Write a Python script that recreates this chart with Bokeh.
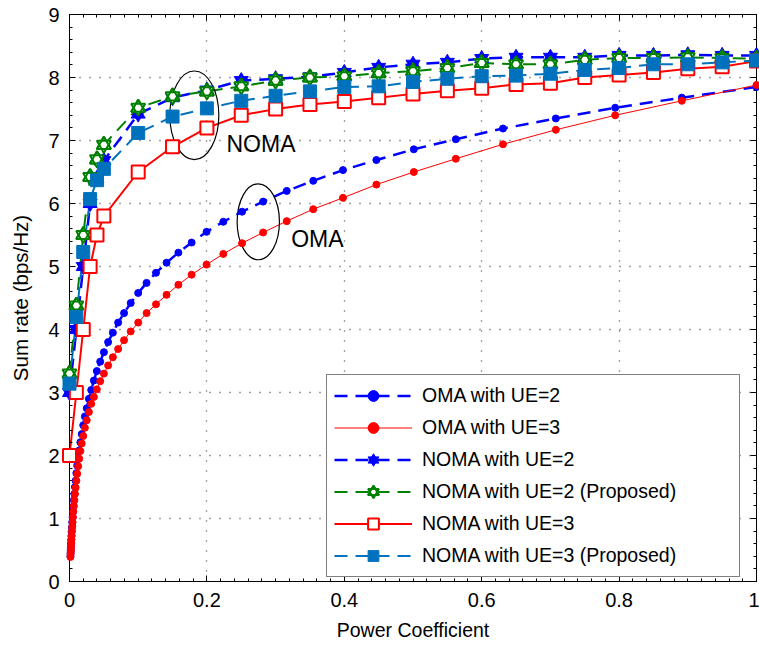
from bokeh.plotting import figure
from bokeh.models import (LinearAxis, Range1d, Legend, LegendItem, FixedTicker,
                          Label, CustomJSTickFormatter)
from bokeh.embed import file_html
from bokeh.resources import INLINE

FONT = "Liberation Sans, Arial, sans-serif"

# ---- OMA curves (power coefficient sampled on a log grid) ----
oma_x = [1.0, 0.8913, 0.7943, 0.7079, 0.6310, 0.5623, 0.5012, 0.4467, 0.3981, 0.3548,
         0.3162, 0.2818, 0.2512, 0.2239, 0.1995, 0.1778, 0.1585, 0.1413, 0.1259, 0.1122,
         0.1000, 0.0891, 0.0794, 0.0708, 0.0631, 0.0562, 0.0501, 0.0447, 0.0398, 0.0355,
         0.0316, 0.0282, 0.0251, 0.0224, 0.0200, 0.0178, 0.0158, 0.0141, 0.0126, 0.0112,
         0.0100, 0.00891, 0.00794, 0.00708, 0.00631, 0.00562, 0.00501, 0.00447, 0.00398,
         0.00355, 0.00316, 0.00282, 0.00251, 0.00224, 0.00200, 0.00178, 0.00158, 0.00141]
oma_ue2 = [7.85, 7.68, 7.52, 7.35, 7.19, 7.02, 6.86, 6.69, 6.53, 6.36,
           6.20, 6.03, 5.87, 5.71, 5.55, 5.38, 5.22, 5.06, 4.90, 4.74,
           4.58, 4.42, 4.26, 4.11, 3.95, 3.80, 3.64, 3.49, 3.34, 3.19,
           3.04, 2.90, 2.75, 2.62, 2.48, 2.34, 2.21, 2.08, 1.96, 1.84,
           1.72, 1.60, 1.50, 1.39, 1.29, 1.19, 1.10, 1.02, 0.94,
           0.86, 0.79, 0.72, 0.66, 0.60, 0.54, 0.49, 0.45, 0.40]
oma_ue3 = [7.88, 7.63, 7.40, 7.17, 6.94, 6.71, 6.50, 6.30, 6.09, 5.91,
           5.72, 5.54, 5.37, 5.20, 5.03, 4.87, 4.71, 4.55, 4.40, 4.26,
           4.11, 3.97, 3.83, 3.69, 3.56, 3.43, 3.30, 3.18, 3.05, 2.93,
           2.82, 2.69, 2.56, 2.44, 2.31, 2.19, 2.07, 1.95, 1.83, 1.71,
           1.60, 1.49, 1.39, 1.29, 1.20, 1.11, 1.02, 0.94, 0.87,
           0.80, 0.73, 0.67, 0.61, 0.56, 0.51, 0.47, 0.43, 0.39]

# ---- NOMA curves ----
noma_x = [0, 0.01, 0.02, 0.03, 0.04, 0.05, 0.10, 0.15, 0.20, 0.25, 0.30, 0.35, 0.40,
          0.45, 0.50, 0.55, 0.60, 0.65, 0.70, 0.75, 0.80, 0.85, 0.90, 0.95, 1.00]
noma_ue2 = [3.00, 4.00, 5.00, 6.00, 6.40, 6.68, 7.42, 7.68, 7.80, 7.95, 7.98, 8.01, 8.08,
            8.16, 8.21, 8.24, 8.30, 8.32, 8.32, 8.32, 8.35, 8.35, 8.36, 8.35, 8.35]
noma_ue2_prop = [3.30, 4.38, 5.50, 6.42, 6.70, 6.93, 7.52, 7.70, 7.78, 7.86, 7.95, 8.00, 8.02,
                 8.07, 8.10, 8.15, 8.23, 8.21, 8.21, 8.28, 8.31, 8.31, 8.32, 8.31, 8.30]
noma_ue3 = [2.00, 3.00, 4.00, 5.00, 5.50, 5.80, 6.50, 6.90, 7.20, 7.40, 7.50, 7.57, 7.62,
            7.68, 7.74, 7.79, 7.83, 7.89, 7.91, 8.00, 8.04, 8.08, 8.14, 8.17, 8.26]
noma_ue3_prop = [3.14, 4.20, 5.23, 6.07, 6.37, 6.55, 7.12, 7.38, 7.51, 7.63, 7.71, 7.78, 7.85,
                 7.86, 7.93, 7.98, 8.02, 8.03, 8.06, 8.12, 8.15, 8.21, 8.21, 8.24, 8.27]

x_ticks = [0, 0.2, 0.4, 0.6, 0.8, 1.0]
y_ticks = [0, 1, 2, 3, 4, 5, 6, 7, 8, 9]

BLUE = "#0000FF"
RED = "#FF0000"
GREEN = "#008000"
MBLUE = "#0072BD"

p = figure(width=759, height=647, output_backend="svg", toolbar_location=None,
           x_range=Range1d(0, 1), y_range=Range1d(0, 9),
           min_border_left=69, min_border_right=3, min_border_top=14, min_border_bottom=66)
p.background_fill_color = "white"
p.border_fill_color = "white"
p.outline_line_color = "black"
p.outline_line_width = 1

x_minor = [i * 0.02 for i in range(51)]
y_minor = [i * 0.2 for i in range(46)]
xticker = FixedTicker(ticks=x_ticks, minor_ticks=x_minor)
yticker = FixedTicker(ticks=y_ticks, minor_ticks=y_minor)
fmt = CustomJSTickFormatter(code="return String(Math.round(tick*10)/10);")

def style_axis(ax, show_labels):
    ax.axis_line_color = "black"
    ax.axis_line_width = 1
    ax.major_tick_in = 6
    ax.major_tick_out = 0
    ax.minor_tick_in = 3
    ax.minor_tick_out = 0
    ax.major_tick_line_color = "black"
    ax.minor_tick_line_color = "black"
    if show_labels:
        ax.major_label_text_font = FONT
        ax.major_label_text_font_size = "20px"
        ax.major_label_text_color = "black"
        ax.axis_label_text_font = FONT
        ax.axis_label_text_font_style = "normal"
        ax.axis_label_text_color = "black"
    else:
        ax.major_label_text_color = None
        ax.major_label_text_font_size = "1px"
        ax.major_label_standoff = 0

p.xaxis.ticker = xticker
p.xaxis.formatter = fmt
p.yaxis.ticker = yticker
p.xaxis.axis_label = "Power Coefficient"
p.yaxis.axis_label = "Sum rate (bps/Hz)"
style_axis(p.xaxis[0], True)
style_axis(p.yaxis[0], True)
p.xaxis.axis_label_text_font_size = "19.5px"
p.yaxis.axis_label_text_font_size = "20.5px"
p.xaxis.major_label_standoff = 11
p.yaxis.major_label_standoff = 10
p.xaxis.axis_label_standoff = 9
p.yaxis.axis_label_standoff = 13

top = LinearAxis(ticker=xticker)
right = LinearAxis(ticker=yticker)
style_axis(top, False)
style_axis(right, False)
p.add_layout(top, "above")
p.add_layout(right, "right")

p.xgrid.ticker = xticker
p.ygrid.ticker = yticker
for g in (p.xgrid[0], p.ygrid[0]):
    g.grid_line_color = "#444444"
    g.grid_line_dash = "1 9"
    g.grid_line_width = 1.3

# markers sit on the overlay level so that points on the frame edge are drawn whole
MK = dict(level="overlay")

# OMA with UE=2
l1 = p.line(oma_x, oma_ue2, line_color=BLUE, line_width=2.5, line_dash="13 8")
m1 = p.scatter(oma_x, oma_ue2, marker="circle", size=7, fill_color=BLUE, line_color=BLUE, **MK)
# OMA with UE=3
l2 = p.line(oma_x, oma_ue3, line_color=RED, line_width=1)
m2 = p.scatter(oma_x, oma_ue3, marker="circle", size=7, fill_color=RED, line_color=RED, **MK)
# NOMA with UE=2 : filled six-point star from two triangles
l3 = p.line(noma_x, noma_ue2, line_color=BLUE, line_width=2.5, line_dash="13 8")
m3a = p.scatter(noma_x, noma_ue2, marker="triangle", size=14, fill_color=BLUE,
                line_color=BLUE, **MK)
m3b = p.scatter(noma_x, noma_ue2, marker="inverted_triangle", size=14, fill_color=BLUE,
                line_color=BLUE, **MK)
# NOMA with UE=2 (Proposed) : open six-point star
l4 = p.line(noma_x, noma_ue2_prop, line_color=GREEN, line_width=2, line_dash="13 8")
m4a = p.scatter(noma_x, noma_ue2_prop, marker="triangle", size=14, fill_color="white",
                line_color=GREEN, line_width=2, **MK)
m4b = p.scatter(noma_x, noma_ue2_prop, marker="inverted_triangle", size=14, fill_color="white",
                line_color=GREEN, line_width=2, **MK)
m4c = p.scatter(noma_x, noma_ue2_prop, marker="triangle", size=14, fill_color=None,
                line_color=GREEN, line_width=2, **MK)
# NOMA with UE=3
l5 = p.line(noma_x, noma_ue3, line_color=RED, line_width=2)
m5 = p.scatter(noma_x, noma_ue3, marker="square", size=13, fill_color="white",
               line_color=RED, line_width=2, **MK)
# NOMA with UE=3 (Proposed)
l6 = p.line(noma_x, noma_ue3_prop, line_color=MBLUE, line_width=2, line_dash="13 8")
m6 = p.scatter(noma_x, noma_ue3_prop, marker="square", size=13, fill_color=MBLUE,
               line_color=MBLUE, **MK)

# grouping ellipses with their labels
p.ellipse(x=[0.1817, 0.2748], y=[7.40, 5.71], width=[0.0713, 0.0616], height=[1.406, 1.206],
          fill_color=None, line_color="black", line_width=1.2)
p.add_layout(Label(x=0.2285, y=6.94, text="NOMA", text_font=FONT, text_font_size="23px",
                   text_baseline="middle", text_color="black"))
p.add_layout(Label(x=0.3227, y=5.44, text="OMA", text_font=FONT, text_font_size="23px",
                   text_baseline="middle", text_color="black"))

legend = Legend(items=[
    LegendItem(label="OMA with UE=2", renderers=[l1, m1]),
    LegendItem(label="OMA with UE=3", renderers=[l2, m2]),
    LegendItem(label="NOMA with UE=2", renderers=[l3, m3a, m3b]),
    LegendItem(label="NOMA with UE=2 (Proposed)", renderers=[l4, m4a, m4b, m4c]),
    LegendItem(label="NOMA with UE=3", renderers=[l5, m5]),
    LegendItem(label="NOMA with UE=3 (Proposed)", renderers=[l6, m6]),
], location=(257, 4))
legend.label_text_font = FONT
legend.label_text_font_size = "19.5px"
legend.label_text_color = "black"
legend.glyph_width = 78
legend.glyph_height = 27
legend.label_height = 27
legend.label_width = 310
legend.label_standoff = 10
legend.spacing = 5
legend.padding = 7
legend.margin = 0
legend.border_line_color = "black"
legend.border_line_width = 1.5
legend.background_fill_color = "white"
legend.background_fill_alpha = 1
p.add_layout(legend)

open("out.html", "w").write(file_html(p, INLINE))
